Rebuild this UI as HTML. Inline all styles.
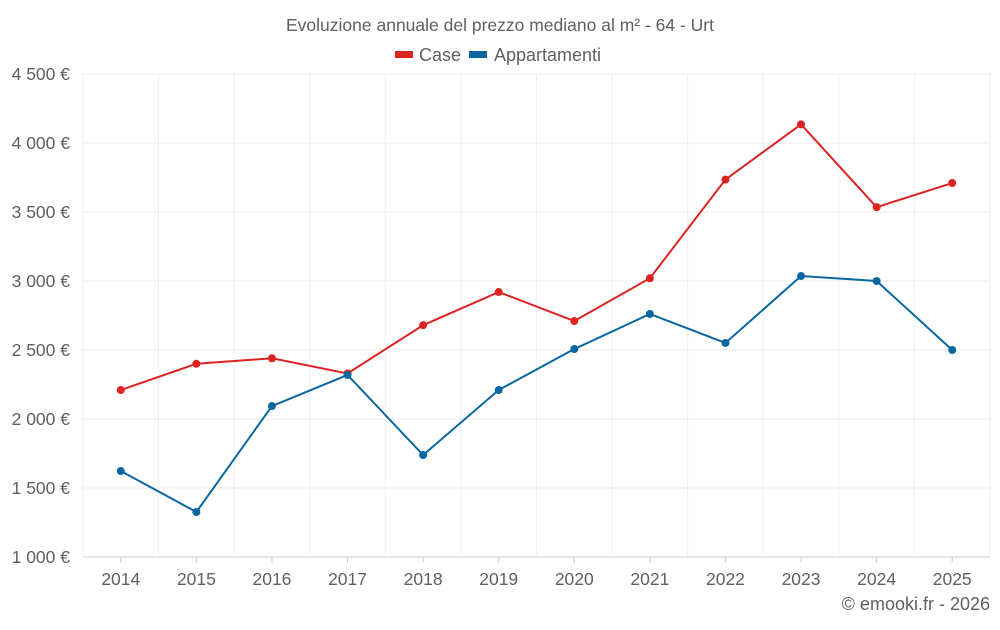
<!DOCTYPE html>
<html><head><meta charset="utf-8"><style>
body{margin:0;background:#fff;font-family:"Liberation Sans",sans-serif;}
svg text{font-family:"Liberation Sans",sans-serif;fill:#606060;}
</style></head><body>
<svg id="chart" width="1000" height="625" xmlns="http://www.w3.org/2000/svg">
<text x="500" y="31" text-anchor="middle" font-size="17.5">Evoluzione annuale del prezzo mediano al m² - 64 - Urt</text>
<g>
<g><rect x="395" y="51" width="18" height="7" fill="#dd2222"/><text x="419" y="61" font-size="18">Case</text></g>
<g><rect x="469" y="51" width="18" height="7" fill="#0a66a0"/><text x="494" y="61" font-size="18">Appartamenti</text></g>
</g>
<g id="grid"></g><g id="axes"></g><g id="series"></g>
<text x="990" y="610" text-anchor="end" font-size="18">© emooki.fr - 2026</text>
</svg>
<script>
const years=["2014","2015","2016","2017","2018","2019","2020","2021","2022","2023","2024","2025"];
const caseValues=[2210,2400,2440,2330,2680,2920,2710,3020,3735,4135,3535,3710];
const appValues=[1623,1326,2094,2319,1739,2210,2507,2761,2551,3036,3000,2500];
const yTicks=[1000,1500,2000,2500,3000,3500,4000,4500];
const yTickLabels=["1 000 €","1 500 €","2 000 €","2 500 €","3 000 €","3 500 €","4 000 €","4 500 €"];
const NS="http://www.w3.org/2000/svg";
const L=83,R=990,T=74,B=557,ymin=1000,ymax=4500;
const bw=(R-L)/years.length;
function x(i){return L+bw*(i+0.5);}
function y(v){return B-(v-ymin)/(ymax-ymin)*(B-T);}
function mk(tag,attrs,parent){const e=document.createElementNS(NS,tag);for(const k in attrs)e.setAttribute(k,attrs[k]);parent.appendChild(e);return e;}
const grid=document.getElementById('grid'),axes=document.getElementById('axes'),ser=document.getElementById('series');
yTicks.forEach((t,i)=>{
 const g=mk('line',{x1:L,x2:R,y1:y(t),y2:y(t),stroke:i==0?'#ccc':'#eee'},grid);
 
 
 const tx=mk('text',{x:70,y:y(t)+6,'text-anchor':'end','font-size':17.5},axes);
 tx.textContent=yTickLabels[i];
 
 
});
for(let i=0;i<=years.length;i++){
 const g=mk('line',{x1:L+bw*i,x2:L+bw*i,y1:T,y2:B,stroke:'#eee'},grid);
 
 
}
years.forEach((yr,i)=>{
 const tk=mk('line',{x1:x(i),x2:x(i),y1:B,y2:B+6,stroke:'#ccc'},axes);
 
 
 const tx=mk('text',{x:x(i),y:585,'text-anchor':'middle','font-size':17.5},axes);
 tx.textContent=yr;
 
 
});
function draw(vals,color,name){
 const p=mk('polyline',{points:vals.map((v,i)=>x(i)+','+y(v)).join(' '),fill:'none',stroke:color,'stroke-width':2},ser);
 
 
 vals.forEach((v,i)=>{
  const c=mk('circle',{cx:x(i),cy:y(v),r:4,fill:color},ser);
  
  
 });
}
draw(caseValues,'#dd2222','case');
draw(appValues,'#0a66a0','appartamenti');
</script>
</body></html>
